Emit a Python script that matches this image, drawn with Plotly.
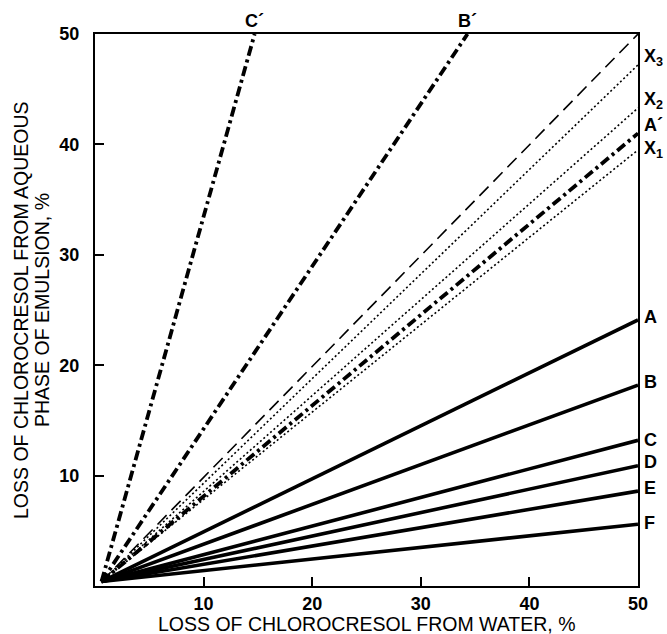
import plotly.graph_objects as go

# Loss of chlorocresol: water (x) vs. aqueous phase of emulsion (y), in %
start_point = (0.6, 0.4)

series_names = ["C′", "B′", "dash", "X3", "X2", "A′", "X1", "A", "B", "C", "D", "E", "F"]
end_x = [14.7, 34.3, 50, 50, 50, 50, 50, 50, 50, 50, 50, 50, 50]
end_y = [50, 50, 50, 47.2, 43.3, 41.0, 39.5, 24.1, 18.2, 13.2, 10.9, 8.6, 5.6]

# Right-hand labels (text, y value where the label sits)
right_labels = ["X<sub>3</sub>", "X<sub>2</sub>", "A´", "X<sub>1</sub>", "A", "B", "C", "D", "E", "F"]
right_label_y = [47.9, 44.0, 41.8, 39.5, 24.4, 18.5, 13.2, 11.2, 8.9, 5.7]

# Top labels for lines that leave through the top edge
top_labels = ["C´", "B´"]
top_label_x = [14.7, 34.3]

tick_vals = [10, 20, 30, 40, 50]

x_title = "LOSS OF CHLOROCRESOL FROM WATER, %"
y_title_lines = ["LOSS OF CHLOROCRESOL FROM AQUEOUS", "PHASE OF EMULSION, %"]

styles = {
    "C′": dict(width=3.8, dash="10px,4px,3px,4px"),
    "B′": dict(width=3.8, dash="10px,4px,3px,4px"),
    "A′": dict(width=3.8, dash="10px,4px,3px,4px"),
    "dash": dict(width=1.6, dash="13px,7px"),
    "X3": dict(width=1.6, dash="2px,2.5px"),
    "X2": dict(width=1.6, dash="2px,2.5px"),
    "X1": dict(width=1.6, dash="2px,2.5px"),
}

fig = go.Figure()
for name, ex, ey in zip(series_names, end_x, end_y):
    st = styles.get(name, dict(width=3.6, dash="solid"))
    fig.add_trace(go.Scatter(
        x=[start_point[0], ex], y=[start_point[1], ey],
        mode="lines", name=name, showlegend=False,
        line=dict(color="black", width=st["width"], dash=st["dash"]),
    ))

font_fam = "Liberation Sans, Arial, sans-serif"

for txt, yv in zip(right_labels, right_label_y):
    fig.add_annotation(x=1, xref="paper", y=yv, yref="y", text=txt,
                       showarrow=False, xanchor="left", xshift=4,
                       font=dict(family=font_fam, size=18, color="black", weight="bold"))

for txt, xv in zip(top_labels, top_label_x):
    fig.add_annotation(x=xv, xref="x", y=1, yref="paper", text=txt,
                       showarrow=False, yanchor="bottom", yshift=1,
                       font=dict(family=font_fam, size=18, color="black", weight="bold"))

# Axis titles as annotations so the plot box keeps fixed margins
title_font = dict(family=font_fam, size=19.5, color="black")
fig.add_annotation(x=0.5, xref="paper", y=0, yref="paper", text=x_title,
                   showarrow=False, yanchor="middle", yshift=-38, font=title_font)
for txt, shift in zip(y_title_lines, [-74, -53]):
    fig.add_annotation(x=0, xref="paper", y=0.5, yref="paper", text=txt,
                       showarrow=False, textangle=-90, xanchor="center",
                       yanchor="middle", xshift=shift, font=title_font)

axis_common = dict(
    showgrid=False, zeroline=False, showline=True, linecolor="black", linewidth=2,
    mirror=True, ticks="inside", ticklen=9, tickwidth=2, tickcolor="black",
    tickvals=tick_vals, automargin=False,
    tickfont=dict(family=font_fam, size=18, color="black", weight="bold"),
)

fig.update_xaxes(range=[0, 50], ticklabelstandoff=0, **axis_common)
fig.update_yaxes(range=[0, 50], ticklabelstandoff=10, **axis_common)

fig.update_layout(
    width=667, height=634,
    margin=dict(l=95, r=29, t=34, b=48),
    plot_bgcolor="white", paper_bgcolor="white",
)

fig.write_html("out.html")
